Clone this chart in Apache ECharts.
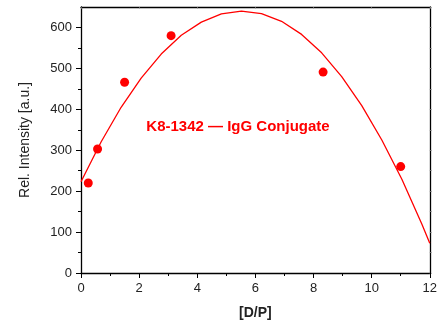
<!DOCTYPE html>
<html>
<head>
<meta charset="utf-8">
<script src="https://cdn.jsdelivr.net/npm/echarts@6/dist/echarts.min.js"></script>
<style>
  html, body { margin: 0; padding: 0; background: #fff; }
  #chart { width: 440px; height: 327px; }
</style>
</head>
<body>
<div id="chart"></div>
<script>
// measured points
var dpX = [0.25, 0.57, 1.5, 3.1, 8.33, 11.0]
var intensity = [220, 303, 466, 580, 491, 260]

// fitted curve
var fitX = [0, 0.69, 1.38, 2.07, 2.76, 3.45, 4.14, 4.83, 5.52, 6.21, 6.9, 7.59, 8.28, 8.97, 9.66, 10.35, 11.04, 11.73, 12]
var fitY = [223, 320, 405, 476, 535, 581, 613, 633, 640, 634, 615, 583, 538, 480, 409, 325, 229, 119, 73]

var yTicks = [0, 100, 200, 300, 400, 500, 600]

var red = '#ff0000'
var font = 'Liberation Sans, Arial, Helvetica, sans-serif'

var chart = echarts.init(document.getElementById('chart'))

chart.setOption({
  animation: false,
  grid: { left: 81, right: 10, top: 7, bottom: 54 },
  xAxis: [{
    type: 'value',
    min: 0,
    max: 12,
    interval: 2,
    name: '[D/P]',
    nameLocation: 'middle',
    nameGap: 33,
    nameTextStyle: { fontFamily: font, fontSize: 14, fontWeight: 'bold', color: '#222' },
    axisLine: { show: true, onZero: false, lineStyle: { color: '#000', width: 1.3 } },
    axisTick: { show: true, length: 5, lineStyle: { color: '#000', width: 1 } },
    minorTick: { show: true, splitNumber: 2, length: 3, lineStyle: { color: '#000', width: 1 } },
    axisLabel: { fontFamily: font, fontSize: 13, color: '#222', margin: 9 },
    splitLine: { show: false }
  }, {
    type: 'value',
    position: 'top',
    min: 0,
    max: 12,
    interval: 2,
    axisLine: { show: true, onZero: false, lineStyle: { color: '#000', width: 1.3 } },
    axisTick: { show: true, inside: true, length: 2, lineStyle: { color: '#999', width: 0.6 } },
    axisLabel: { show: false },
    splitLine: { show: false }
  }],
  yAxis: [{
    type: 'value',
    min: 0,
    max: 650,
    interval: 100,
    name: 'Rel. Intensity [a.u.]',
    nameLocation: 'middle',
    nameGap: 49,
    nameTextStyle: { fontFamily: font, fontSize: 14, color: '#222' },
    axisLine: { show: true, onZero: false, lineStyle: { color: '#000', width: 1.3 } },
    axisTick: { show: true, length: 5, customValues: yTicks, lineStyle: { color: '#000', width: 1 } },
    minorTick: { show: true, splitNumber: 2, length: 3, lineStyle: { color: '#000', width: 1 } },
    axisLabel: { fontFamily: font, fontSize: 13, color: '#222', margin: 9, customValues: yTicks },
    splitLine: { show: false }
  }, {
    type: 'value',
    position: 'right',
    min: 0,
    max: 650,
    interval: 50,
    axisLine: { show: true, onZero: false, lineStyle: { color: '#000', width: 1.3 } },
    axisTick: { show: true, length: 2, lineStyle: { color: '#888', width: 0.8 } },
    axisLabel: { show: false },
    splitLine: { show: false }
  }],
  graphic: [{
    type: 'text',
    x: 238,
    y: 127,
    style: {
      text: 'K8-1342 \u2014 IgG Conjugate',
      fill: red,
      font: 'bold 15px ' + font,
      textAlign: 'center',
      textVerticalAlign: 'middle'
    }
  }],
  series: [{
    type: 'line',
    data: fitX.map(function (x, i) { return [x, fitY[i]] }),
    showSymbol: false,
    smooth: false,
    lineStyle: { color: red, width: 1.3 },
    z: 2
  }, {
    type: 'scatter',
    data: dpX.map(function (x, i) { return [x, intensity[i]] }),
    symbol: 'circle',
    symbolSize: 9,
    itemStyle: { color: red, opacity: 1 },
    z: 3
  }]
})
</script>
</body>
</html>
